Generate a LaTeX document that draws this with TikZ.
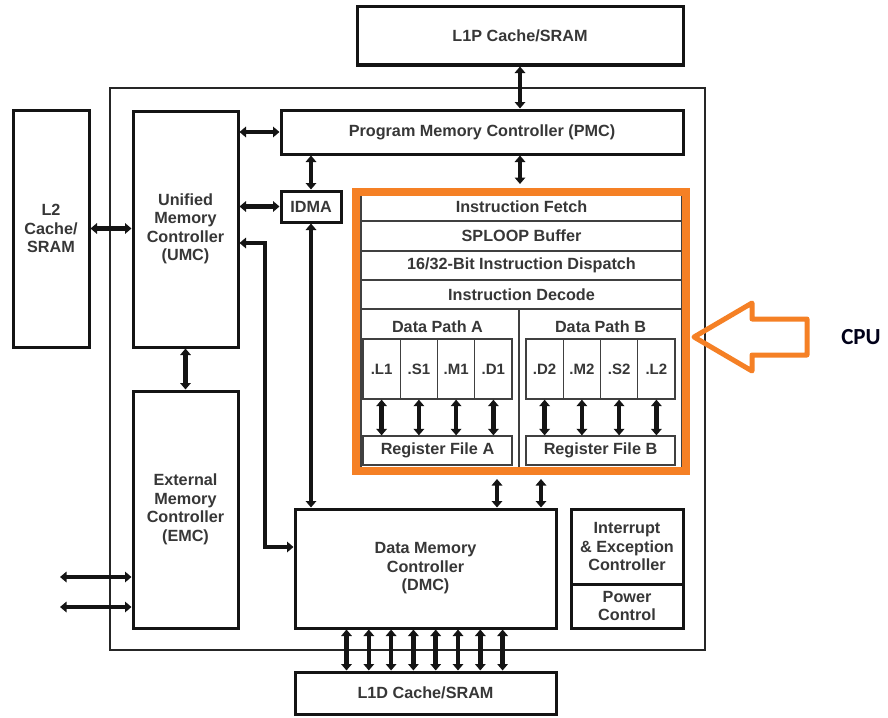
\documentclass[tikz,border=0pt]{standalone}
\usepackage{fontspec}
\setmainfont{Liberation Sans}
\newfontfamily\cpufont{Carlito}
\usetikzlibrary{arrows.meta,calc}
\definecolor{cpuorange}{RGB}{245,128,37}
\definecolor{txt}{RGB}{55,55,55}
\begin{document}
\begin{tikzpicture}[x=1pt,y=-1pt,
  box/.style={draw=black!92, line width=3pt, inner sep=0pt, align=center, text=txt,
    font=\bfseries\fontsize{16.2}{18.5}\selectfont},
  thinbox/.style={draw=black!75, line width=1.3pt, inner sep=0pt, align=center, text=txt,
    font=\bfseries\fontsize{16.2}{18.5}\selectfont},
  lbl/.style={inner sep=0pt, align=center, text=txt, font=\bfseries\fontsize{16.2}{18.5}\selectfont},
  unitbox/.style={thinbox, minimum width=37.25pt, minimum height=60pt, font=\bfseries\fontsize{15}{17}\selectfont},
  dar/.style={line width=4.6pt, draw=black!92,
    {Triangle[length=6.5pt,width=10.5pt]}-{Triangle[length=6.5pt,width=10.5pt]}},
]
\useasboundingbox (0,0) rectangle (888,717);
\fill[white] (0,0) rectangle (888,717);

% outer chip boundary
\node[draw=black!85, line width=1.4pt, minimum width=595pt, minimum height=562pt, inner sep=0pt] (chip) at (407.5,369) {};

% memory boxes
\node[box, minimum width=326pt, minimum height=58pt] (l1p) at (520,36) {L1P Cache/SRAM};
\node[box, minimum width=402pt, minimum height=44pt] (pmc) at (482,132) {Program Memory Controller (PMC)};
\node[box, minimum width=76pt, minimum height=237pt] (l2) at (51,228.5) {L2\\Cache/\\SRAM};
\node[box, minimum width=105pt, minimum height=236pt] (umc) at (185.5,229) {Unified\\Memory\\Controller\\(UMC)};
\node[box, minimum width=60pt, minimum height=31pt] (idma) at (311,206.5) {IDMA};
\node[box, minimum width=105pt, minimum height=237pt] (emc) at (185.5,509.5) {External\\Memory\\Controller\\(EMC)};
\node[box, minimum width=261pt, minimum height=119pt] (dmc) at (425.5,568.5) {Data Memory\\Controller\\(DMC)};
\node[box, minimum width=112pt, minimum height=75pt] (irq) at (627,546.5) {Interrupt\\\& Exception\\Controller};
\node[box, minimum width=112pt, minimum height=44pt] (pwr) at (627,606) {Power\\Control};
\node[box, minimum width=261pt, minimum height=42pt] (l1d) at (425.5,693) {L1D Cache/SRAM};

% CPU internals
\node[thinbox, minimum width=321pt, minimum height=29pt] (fetch) at (521.5,206.5) {Instruction Fetch};
\node[thinbox, minimum width=321pt, minimum height=30pt] (sploop) at (521.5,236) {SPLOOP Buffer};
\node[thinbox, minimum width=321pt, minimum height=29pt] (disp) at (521.5,265.5) {16/32-Bit Instruction Dispatch};
\node[thinbox, minimum width=321pt, minimum height=29pt] (decode) at (521.5,294.5) {Instruction Decode};
\node[thinbox, minimum width=158pt, minimum height=161pt] (pathA) at (440,389.5) {};
\node[thinbox, minimum width=163pt, minimum height=161pt] (pathB) at (600.5,389.5) {};
\node[lbl] (dpa) at (437.5,327) {Data Path A};
\node[lbl] (dpb) at (600.5,327) {Data Path B};

\node[unitbox] (ul1) at (381.6,369) {.L1};
\node[unitbox] (us1) at (418.9,369) {.S1};
\node[unitbox] (um1) at (456.1,369) {.M1};
\node[unitbox] (ud1) at (493.4,369) {.D1};
\node[unitbox] (ud2) at (544.6,369) {.D2};
\node[unitbox] (um2) at (581.9,369) {.M2};
\node[unitbox] (us2) at (619.1,369) {.S2};
\node[unitbox] (ul2) at (656.4,369) {.L2};

\node[thinbox, minimum width=149pt, minimum height=29pt] (rfa) at (437.5,450.5) {Register File A};
\node[thinbox, minimum width=149pt, minimum height=29pt] (rfb) at (600.5,450.5) {Register File B};

\foreach \u in {ul1,us1,um1,ud1}{
  \draw[dar] (\u.south) -- (\u.south |- rfa.north);
}
\foreach \u in {ud2,um2,us2,ul2}{
  \draw[dar] (\u.south) -- (\u.south |- rfb.north);
}

% orange CPU frame
\node[draw=cpuorange, line width=8pt, minimum width=330pt, minimum height=279pt, inner sep=0pt] (cpu) at (521,331.5) {};

% connectors
\draw[dar] (l1p.south) -- (l1p.south |- pmc.north);
\draw[dar] (pmc.south -| l1p.south) -- ($(cpu.north -| l1p.south)+(0,-4)$);
\draw[dar] (l2.east) -- (umc.west |- l2.east);
\draw[dar] (umc.east |- pmc.west) -- (pmc.west);
\draw[dar] (umc.east |- idma.west) -- (idma.west);
\draw[dar] (pmc.south -| idma.north) -- (idma.north);
\draw[dar] (idma.south) -- (idma.south |- dmc.north);
\draw[dar] (umc.south) -- (emc.north);
\coordinate (bend) at (265,547);
\draw[dar] ([yshift=-14pt]umc.east) -| (bend) -- (dmc.west |- bend);
\coordinate (e1) at (60,577);
\coordinate (e2) at (60,607);
\draw[dar] (e1) -- (emc.west |- e1);
\draw[dar] (e2) -- (emc.west |- e2);
\draw[dar] ($(cpu.south)+(-24,4)$) -- ([xshift=-24pt]cpu.south |- dmc.north);
\draw[dar] ($(cpu.south)+(20,4)$) -- ([xshift=20pt]cpu.south |- dmc.north);
\foreach \dx in {53,75.3,97.6,119.9,142.2,164.5,186.8,209.1}{
  \draw[dar] ([xshift=\dx pt]dmc.south west) -- ([xshift=\dx pt]l1d.north west);
}

% CPU pointer arrow
\draw[cpuorange, line width=5pt, line join=round]
  (694,337) -- (752,303) -- (752,319) -- (807,319) -- (807,355) -- (752,355) -- (752,371) -- cycle;
\node[inner sep=0pt, text=black!90!blue, font=\cpufont\bfseries\fontsize{23}{26}\selectfont] (cpulbl) at (861,337) {CPU};
\end{tikzpicture}
\end{document}
